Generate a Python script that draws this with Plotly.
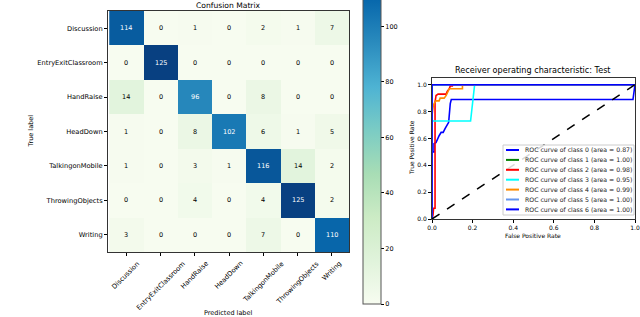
import plotly.graph_objects as go

labels = ["Discussion", "EntryExitClassroom", "HandRaise", "HeadDown",
          "TalkingonMobile", "ThrowingObjects", "Writing"]
cm = [
    [114, 0, 1, 0, 2, 1, 7],
    [0, 125, 0, 0, 0, 0, 0],
    [14, 0, 96, 0, 8, 0, 0],
    [1, 0, 8, 102, 6, 1, 5],
    [1, 0, 3, 1, 116, 14, 2],
    [0, 0, 4, 0, 4, 125, 2],
    [3, 0, 0, 0, 7, 0, 110],
]
cbar_ticks = [0, 20, 40, 60, 80, 100]

# ROC curves (fpr, tpr) per class
roc_fpr = [
    [0, 0, 0.01, 0.01, 0.02, 0.025, 0.035, 0.045, 0.055, 0.065, 0.075, 0.082, 0.09, 0.095, 0.99, 1.0],
    [0, 0, 1.0],
    [0, 0.005, 0.008, 0.015, 0.015, 0.02, 0.03, 0.07, 0.075, 0.085, 0.09, 0.1, 0.1, 0.14, 1.0],
    [0, 0, 0.19, 0.21, 1.0],
    [0, 0, 0.005, 0.01, 0.02, 0.035, 0.04, 0.06, 0.07, 0.08, 0.085, 0.15, 0.15, 1.0],
    [0, 0, 1.0],
    [0, 0, 1.0],
]
roc_tpr = [
    [0, 0.5, 0.5, 0.56, 0.57, 0.59, 0.62, 0.645, 0.645, 0.675, 0.70, 0.72, 0.86, 0.89, 0.89, 1.0],
    [0, 1.0, 1.0],
    [0, 0.03, 0.08, 0.08, 0.87, 0.92, 0.93, 0.93, 0.95, 0.97, 0.99, 0.99, 1.0, 1.0, 1.0],
    [0, 0.73, 0.73, 1.0, 1.0],
    [0, 0.77, 0.83, 0.86, 0.88, 0.88, 0.90, 0.90, 0.92, 0.95, 0.97, 0.97, 1.0, 1.0],
    [0, 1.0, 1.0],
    [0, 1.0, 1.0],
]
roc_area = [0.87, 1.00, 0.98, 0.95, 0.99, 1.00, 1.00]
roc_colors = ["blue", "green", "red", "cyan", "darkorange", "cornflowerblue", "blue"]

W, H = 640, 317
FONT = "DejaVu Sans"

gnbu = [[0.0, "rgb(247,252,240)"], [0.125, "rgb(224,243,219)"], [0.25, "rgb(204,235,197)"],
        [0.375, "rgb(168,221,181)"], [0.5, "rgb(123,204,196)"], [0.625, "rgb(78,179,211)"],
        [0.75, "rgb(43,140,190)"], [0.875, "rgb(8,104,172)"], [1.0, "rgb(8,64,129)"]]


def px(x):
    return x / W


def py(y):
    return 1 - y / H


fig = go.Figure()
vmax = max(max(r) for r in cm)
fig.add_trace(go.Heatmap(
    z=cm, x=labels, y=labels, colorscale=gnbu, zmin=0, zmax=vmax,
    xaxis="x", yaxis="y", showscale=True, hoverinfo="skip",
    colorbar=dict(
        x=px(363), xanchor="left", thickness=18, thicknessmode="pixels",
        y=py(304), yanchor="bottom", len=347, lenmode="pixels",
        tickvals=cbar_ticks, ticks="outside", ticklen=3, tickcolor="black",
        tickfont=dict(size=6.5, color="black", family=FONT),
        outlinewidth=1, outlinecolor="#555", xpad=0, ypad=0,
    ),
))

annotations = []
for i, row in enumerate(cm):
    for j, v in enumerate(row):
        annotations.append(dict(
            x=labels[j], y=labels[i], xref="x", yref="y", text=str(v), showarrow=False,
            font=dict(size=6.5, family=FONT, color="white" if v > vmax / 2 else "black"),
        ))

# rotated x tick labels, centred on their ticks (matplotlib rotation=45 style)
for lab in labels:
    annotations.append(dict(
        x=lab, y=py(257), xref="x", yref="paper", text=lab, showarrow=False,
        textangle=-45, xanchor="center", yanchor="top",
        font=dict(size=6.7, family=FONT, color="black"),
    ))

for k in range(len(roc_fpr)):
    fig.add_trace(go.Scatter(
        x=roc_fpr[k], y=roc_tpr[k], mode="lines", xaxis="x2", yaxis="y2",
        line=dict(color=roc_colors[k], width=1.6),
        name=f"ROC curve of class {k} (area = {roc_area[k]:.2f})",
        hoverinfo="skip", showlegend=False,
    ))
fig.add_trace(go.Scatter(
    x=[0, 1], y=[0, 1], mode="lines", xaxis="x2", yaxis="y2",
    line=dict(color="black", width=1.5, dash="dash"), showlegend=False, hoverinfo="skip",
))


def txt(text, x, y, size, angle=0, color="black", xanchor="center"):
    return dict(text=text, x=px(x), y=py(y), xref="paper", yref="paper",
                xanchor=xanchor, yanchor="middle", textangle=angle, showarrow=False,
                font=dict(size=size, family=FONT, color=color))


annotations += [
    txt("Confusion Matrix", 228, 5, 7.6),
    txt("True label", 30, 131.5, 6.5, angle=-90),
    txt("Predicted label", 228, 313, 6.5),
    txt("Receiver operating characteristic: Test", 533, 70, 8.1),
    txt("True Positive Rate", 411, 148, 6, angle=-90),
    txt("False Positive Rate", 533, 235, 6),
]

# legend box (lower right), built from the series names / colours
shapes = [dict(type="rect", xref="paper", yref="paper", x0=px(503), x1=px(634),
               y0=py(215), y1=py(145), fillcolor="rgba(255,255,255,0.85)",
               line=dict(color="#cccccc", width=1), layer="above")]
for k in range(len(roc_area)):
    yk = 150 + 9.9 * k
    shapes.append(dict(type="line", xref="paper", yref="paper", x0=px(506), x1=px(519),
                       y0=py(yk), y1=py(yk), line=dict(color=roc_colors[k], width=2),
                       layer="above"))
    annotations.append(txt(f"ROC curve of class {k} (area = {roc_area[k]:.2f})",
                           523, yk, 6.2, color="#222", xanchor="left"))

axis_common = dict(showline=True, mirror=True, linecolor="#333", linewidth=1,
                   ticks="outside", ticklen=3, tickcolor="black", showgrid=False,
                   zeroline=False, tickfont=dict(size=6.7, family=FONT, color="black"))
roc_axis = {**axis_common, "tickfont": dict(size=6, family=FONT, color="black")}

fig.update_layout(
    width=W, height=H,
    margin=dict(l=0, r=0, t=0, b=0, autoexpand=False),
    paper_bgcolor="white", plot_bgcolor="white",
    font=dict(family=FONT, color="black"),
    showlegend=False,
    xaxis=dict(domain=[px(108), px(349)], anchor="y", showticklabels=False, **axis_common),
    yaxis=dict(domain=[py(252), py(11)], anchor="x", autorange="reversed", **axis_common),
    xaxis2=dict(domain=[px(432), px(635)], anchor="y2", range=[0, 1],
                tickvals=[0, 0.2, 0.4, 0.6, 0.8, 1.0], tickformat=".1f", **roc_axis),
    yaxis2=dict(domain=[py(219), py(78)], anchor="x2", range=[0, 1.05],
                tickvals=[0, 0.2, 0.4, 0.6, 0.8, 1.0], tickformat=".1f", **roc_axis),
    annotations=annotations,
    shapes=shapes,
)

fig.write_html("out.html", config={"displayModeBar": False},
               post_script="document.body.style.margin='0';")
